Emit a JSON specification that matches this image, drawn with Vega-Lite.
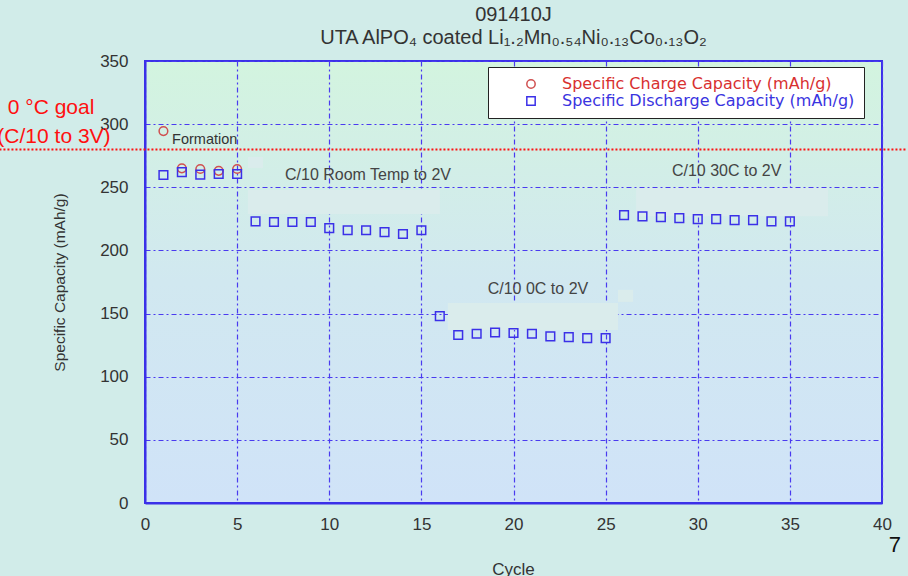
{
  "$schema": "https://vega.github.io/schema/vega-lite/v6.json",
  "width": 737,
  "height": 442,
  "autosize": {"type": "none"},
  "padding": {"left": 145, "top": 61, "right": 26, "bottom": 73},
  "background": "#d1ece9",
  "title": {
    "text": ["091410J", "UTA AlPO₄ coated Li₁.₂Mn₀.₅₄Ni₀.₁₃Co₀.₁₃O₂"],
    "font": "Liberation Sans",
    "fontSize": 20,
    "fontWeight": "normal",
    "color": "#333333",
    "lineHeight": 23,
    "anchor": "middle",
    "offset": 4
  },
  "config": {
    "font": "Liberation Sans",
    "view": {
      "stroke": "#3b30e8",
      "strokeWidth": 2,
      "fill": {
        "gradient": "linear",
        "x1": 0, "y1": 0, "x2": 0, "y2": 1,
        "stops": [
          {"offset": 0, "color": "#d3f4df"},
          {"offset": 0.5, "color": "#d1e8f0"},
          {"offset": 1, "color": "#d0e3f8"}
        ]
      }
    },
    "axisX": {
      "grid": true, "gridColor": "#4a3af0", "gridDash": [5, 3, 2, 3], "gridWidth": 1.2,
      "domainColor": "#3b30e8", "domainWidth": 2, "ticks": false, "labelFlush": false,
      "labelFontSize": 17, "labelColor": "#333333", "labelPadding": 13,
      "titleFontSize": 17, "titleFontWeight": "normal", "titleColor": "#333333",
      "titleX": 368, "titleY": 66, "titleBaseline": "middle", "titleAlign": "center"
    },
    "axisY": {
      "grid": true, "gridColor": "#4a3af0", "gridDash": [5, 3, 2, 3], "gridWidth": 1.2,
      "domainColor": "#3b30e8", "domainWidth": 2, "ticks": false, "labelFlush": false,
      "labelFontSize": 17, "labelColor": "#333333", "labelPadding": 17,
      "titleFontSize": 15.5, "titleFontWeight": "normal", "titleColor": "#333333",
      "titleX": -86, "titleY": 221, "titleAngle": -90, "titleBaseline": "middle", "titleAlign": "center"
    },
    "legend": {
      "orient": "none",
      "legendX": 343,
      "legendY": 6,
      "fillColor": "#ffffff",
      "strokeColor": "#222222",
      "padding": 9,
      "symbolOffset": 26,
      "labelOffset": 23,
      "labelFont": "DejaVu Sans",
      "labelFontSize": 16,
      "rowPadding": 1,
      "symbolSize": 70,
      "symbolStrokeWidth": 1.5,
      "labelLimit": 400
    }
  },
  "layer": [
    {
      "data": {"values": [
        {"x0": 5.59, "x1": 16.01, "y0": 247.8, "y1": 228.8},
        {"x0": 5.59, "x1": 6.4, "y0": 274.0, "y1": 265.3},
        {"x0": 16.44, "x1": 25.67, "y0": 158.4, "y1": 137.0},
        {"x0": 25.67, "x1": 26.49, "y0": 168.7, "y1": 159.2},
        {"x0": 26.65, "x1": 37.07, "y0": 249.4, "y1": 227.0}
      ]},
      "mark": {"type": "rect", "fill": "#daecec"},
      "encoding": {
        "x": {"field": "x0", "type": "quantitative", "title": "Cycle", "scale": {"domain": [0, 40], "nice": false, "zero": false}, "axis": {"values": [0, 5, 10, 15, 20, 25, 30, 35, 40]}},
        "x2": {"field": "x1"},
        "y": {"field": "y0", "type": "quantitative", "title": "Specific Capacity (mAh/g)", "scale": {"domain": [0, 350], "nice": false}, "axis": {"values": [0, 50, 100, 150, 200, 250, 300, 350]}},
        "y2": {"field": "y1"}
      }
    },
    {
      "data": {"values": [{"goal": 280, "from": -7.9, "to": 41.3}]},
      "mark": {"type": "rule", "color": "#ff1010", "strokeWidth": 2, "strokeDash": [2, 2]},
      "encoding": {
        "x": {"field": "from", "type": "quantitative", "title": "Cycle"},
        "x2": {"field": "to"},
        "y": {"field": "goal", "type": "quantitative", "title": "Specific Capacity (mAh/g)"}
      }
    },
    {
      "data": {"values": [
        {"cycle": 1, "capacity": 294.5, "series": "Specific Charge Capacity (mAh/g)"},
        {"cycle": 2, "capacity": 265, "series": "Specific Charge Capacity (mAh/g)"},
        {"cycle": 3, "capacity": 264.5, "series": "Specific Charge Capacity (mAh/g)"},
        {"cycle": 4, "capacity": 263, "series": "Specific Charge Capacity (mAh/g)"},
        {"cycle": 5, "capacity": 264.5, "series": "Specific Charge Capacity (mAh/g)"},
        {"cycle": 1, "capacity": 259.7, "series": "Specific Discharge Capacity (mAh/g)"},
        {"cycle": 2, "capacity": 262, "series": "Specific Discharge Capacity (mAh/g)"},
        {"cycle": 3, "capacity": 260, "series": "Specific Discharge Capacity (mAh/g)"},
        {"cycle": 4, "capacity": 260.5, "series": "Specific Discharge Capacity (mAh/g)"},
        {"cycle": 5, "capacity": 260.5, "series": "Specific Discharge Capacity (mAh/g)"},
        {"cycle": 6, "capacity": 223, "series": "Specific Discharge Capacity (mAh/g)"},
        {"cycle": 7, "capacity": 222.5, "series": "Specific Discharge Capacity (mAh/g)"},
        {"cycle": 8, "capacity": 222.5, "series": "Specific Discharge Capacity (mAh/g)"},
        {"cycle": 9, "capacity": 222.5, "series": "Specific Discharge Capacity (mAh/g)"},
        {"cycle": 10, "capacity": 217.7, "series": "Specific Discharge Capacity (mAh/g)"},
        {"cycle": 11, "capacity": 216, "series": "Specific Discharge Capacity (mAh/g)"},
        {"cycle": 12, "capacity": 216, "series": "Specific Discharge Capacity (mAh/g)"},
        {"cycle": 13, "capacity": 214.5, "series": "Specific Discharge Capacity (mAh/g)"},
        {"cycle": 14, "capacity": 213, "series": "Specific Discharge Capacity (mAh/g)"},
        {"cycle": 15, "capacity": 216, "series": "Specific Discharge Capacity (mAh/g)"},
        {"cycle": 16, "capacity": 148, "series": "Specific Discharge Capacity (mAh/g)"},
        {"cycle": 17, "capacity": 133, "series": "Specific Discharge Capacity (mAh/g)"},
        {"cycle": 18, "capacity": 134, "series": "Specific Discharge Capacity (mAh/g)"},
        {"cycle": 19, "capacity": 135, "series": "Specific Discharge Capacity (mAh/g)"},
        {"cycle": 20, "capacity": 134.6, "series": "Specific Discharge Capacity (mAh/g)"},
        {"cycle": 21, "capacity": 134, "series": "Specific Discharge Capacity (mAh/g)"},
        {"cycle": 22, "capacity": 132, "series": "Specific Discharge Capacity (mAh/g)"},
        {"cycle": 23, "capacity": 131.4, "series": "Specific Discharge Capacity (mAh/g)"},
        {"cycle": 24, "capacity": 130.6, "series": "Specific Discharge Capacity (mAh/g)"},
        {"cycle": 25, "capacity": 130.6, "series": "Specific Discharge Capacity (mAh/g)"},
        {"cycle": 26, "capacity": 228, "series": "Specific Discharge Capacity (mAh/g)"},
        {"cycle": 27, "capacity": 227, "series": "Specific Discharge Capacity (mAh/g)"},
        {"cycle": 28, "capacity": 226.4, "series": "Specific Discharge Capacity (mAh/g)"},
        {"cycle": 29, "capacity": 225.6, "series": "Specific Discharge Capacity (mAh/g)"},
        {"cycle": 30, "capacity": 224.8, "series": "Specific Discharge Capacity (mAh/g)"},
        {"cycle": 31, "capacity": 224.8, "series": "Specific Discharge Capacity (mAh/g)"},
        {"cycle": 32, "capacity": 224, "series": "Specific Discharge Capacity (mAh/g)"},
        {"cycle": 33, "capacity": 224, "series": "Specific Discharge Capacity (mAh/g)"},
        {"cycle": 34, "capacity": 223, "series": "Specific Discharge Capacity (mAh/g)"},
        {"cycle": 35, "capacity": 223, "series": "Specific Discharge Capacity (mAh/g)"}
      ]},
      "mark": {"type": "point", "filled": false, "size": 75, "strokeWidth": 1.5, "opacity": 1},
      "encoding": {
        "x": {"field": "cycle", "type": "quantitative", "title": "Cycle"},
        "y": {"field": "capacity", "type": "quantitative", "title": "Specific Capacity (mAh/g)"},
        "shape": {
          "field": "series", "type": "nominal",
          "scale": {"domain": ["Specific Charge Capacity (mAh/g)", "Specific Discharge Capacity (mAh/g)"], "range": ["circle", "square"]},
          "legend": {"title": null, "labelColor": {"expr": "test(/Discharge/, datum.label) ? '#3a34e0' : '#d83030'"}}
        },
        "stroke": {
          "field": "series", "type": "nominal",
          "scale": {"domain": ["Specific Charge Capacity (mAh/g)", "Specific Discharge Capacity (mAh/g)"], "range": ["#d05050", "#3b30e8"]},
          "legend": {"title": null, "labelColor": {"expr": "test(/Discharge/, datum.label) ? '#3a34e0' : '#d83030'"}}
        }
      }
    },
    {
      "data": {"values": [{"x": 1.47, "y": 287.4, "label": "Formation"}]},
      "mark": {"type": "text", "align": "left", "baseline": "middle", "fontSize": 14.5, "color": "#333333"},
      "encoding": {
        "x": {"field": "x", "type": "quantitative", "title": "Cycle"},
        "y": {"field": "y", "type": "quantitative", "title": "Specific Capacity (mAh/g)"},
        "text": {"field": "label"}
      }
    },
    {
      "data": {"values": [
        {"x": 7.6, "y": 259.7, "label": "C/10 Room Temp to 2V"},
        {"x": 18.6, "y": 169.4, "label": "C/10 0C to 2V"},
        {"x": 28.6, "y": 262.9, "label": "C/10 30C to 2V"}
      ]},
      "mark": {"type": "text", "align": "left", "baseline": "middle", "fontSize": 16, "color": "#444444"},
      "encoding": {
        "x": {"field": "x", "type": "quantitative", "title": "Cycle"},
        "y": {"field": "y", "type": "quantitative", "title": "Specific Capacity (mAh/g)"},
        "text": {"field": "label"}
      }
    },
    {
      "data": {"values": [
        {"x": -5.1, "y": 312.7, "label": "0 °C goal"},
        {"x": -4.94, "y": 289.8, "label": "(C/10 to 3V)"}
      ]},
      "mark": {"type": "text", "align": "center", "baseline": "middle", "fontSize": 21, "color": "#ff1010"},
      "encoding": {
        "x": {"field": "x", "type": "quantitative", "title": "Cycle"},
        "y": {"field": "y", "type": "quantitative", "title": "Specific Capacity (mAh/g)"},
        "text": {"field": "label"}
      }
    },
    {
      "data": {"values": [{"x": 40.7, "y": -33.3, "label": "7"}]},
      "mark": {"type": "text", "align": "center", "baseline": "middle", "fontSize": 22, "color": "#111111"},
      "encoding": {
        "x": {"field": "x", "type": "quantitative", "title": "Cycle"},
        "y": {"field": "y", "type": "quantitative", "title": "Specific Capacity (mAh/g)"},
        "text": {"field": "label"}
      }
    }
  ]
}
